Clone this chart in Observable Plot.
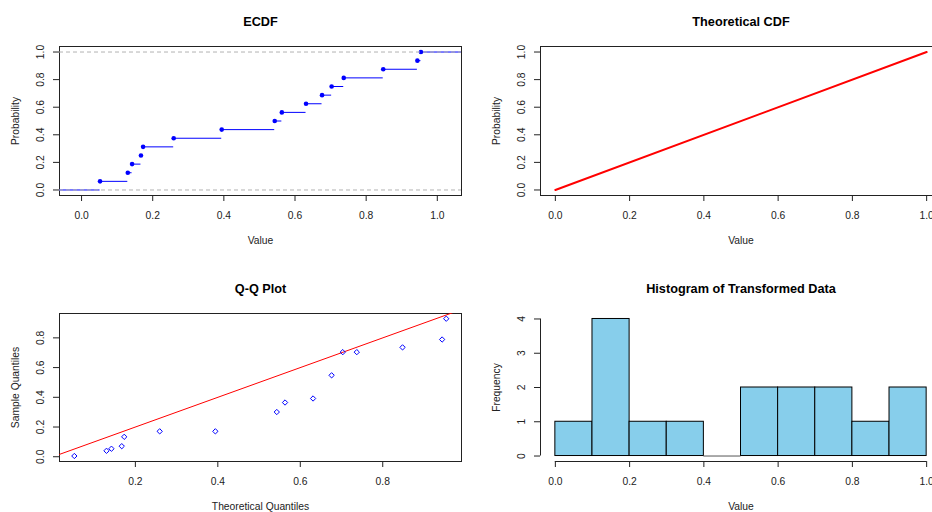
<!DOCTYPE html>
<html><head><meta charset="utf-8">
<script src="https://cdn.jsdelivr.net/npm/d3@7"></script>
<script src="https://cdn.jsdelivr.net/npm/@observablehq/plot@0.6"></script>
<style>
html,body{margin:0;padding:0;background:#fff;overflow:hidden;}
#wrap{position:relative;width:932px;height:512px;overflow:hidden;background:#fff;}
.panel{position:absolute;width:500px;height:256px;}
.panel svg{display:block;max-width:none !important;}
</style></head><body><div id="wrap">
<div class="panel" id="p1" style="left:0;top:0"></div>
<div class="panel" id="p2" style="left:466px;top:0"></div>
<div class="panel" id="p3" style="left:0;top:256px"></div>
<div class="panel" id="p4" style="left:466px;top:256px"></div>
</div>
<script>
// ---- data ----
const ecdfX = [0.052, 0.130, 0.142, 0.167, 0.173, 0.259, 0.394, 0.543, 0.563, 0.631, 0.676, 0.703, 0.737, 0.848, 0.944, 0.954];
const ecdfY = [0.0625, 0.125, 0.1875, 0.25, 0.3125, 0.375, 0.4375, 0.5, 0.5625, 0.625, 0.6875, 0.75, 0.8125, 0.875, 0.9375, 1.0];
const theoX = [0, 1];
const theoY = [0, 1];
const qqTheoretical = [0.052, 0.130, 0.142, 0.167, 0.173, 0.259, 0.394, 0.543, 0.563, 0.631, 0.676, 0.703, 0.737, 0.848, 0.944, 0.954];
const qqSample = [0.005, 0.040, 0.054, 0.071, 0.134, 0.171, 0.171, 0.301, 0.365, 0.392, 0.548, 0.704, 0.704, 0.736, 0.789, 0.929];
const qqIntercept = 0, qqSlope = 1;
const histBreaks = [0, 0.1, 0.2, 0.3, 0.4, 0.5, 0.6, 0.7, 0.8, 0.9, 1.0];
const histCounts = [1, 4, 1, 1, 0, 2, 2, 2, 1, 2];
const ticks01 = [0, 0.2, 0.4, 0.6, 0.8, 1.0];
const ticksQQx = [0.2, 0.4, 0.6, 0.8];
const ticksQQy = [0, 0.2, 0.4, 0.6, 0.8];
const ticksHistY = [0, 1, 2, 3, 4];

const FONT = "'Liberation Sans', Arial, Helvetica, sans-serif";
const f1 = d3.format(".1f");
const fd = d3.format("d");

function makePanel(o) {
  const marks = [];
  if (o.frame !== false) marks.push(Plot.frame({stroke: "#222"}));
  marks.push(...o.marks);
  marks.push(Plot.axisX(o.xTicks, {tickSize: 6, tickPadding: 10, tickFormat: o.xFmt, fontSize: 10.3, label: null, fill: "#222", stroke: "#222"}));
  marks.push(Plot.axisY(o.yTicks, {tickSize: 6, tickFormat: () => "", label: null, stroke: "#222"}));
  marks.push(Plot.text(o.yTicks, {y: d => d, text: o.yFmt, frameAnchor: "left", dx: -18.6, rotate: -90, textAnchor: "middle", lineAnchor: "middle", fontSize: 10.3, fill: "#222"}));
  marks.push(Plot.text([o.title], {frameAnchor: "top", dy: o.titleDy, fontWeight: "bold", fontSize: 12.7, fill: "#000", lineAnchor: "middle"}));
  marks.push(Plot.text([o.xLabel], {frameAnchor: "bottom", dy: 45, fontSize: 10.3, fill: "#222", lineAnchor: "middle"}));
  marks.push(Plot.text([o.yLabel], {frameAnchor: "left", dx: -44, rotate: -90, fontSize: 10.3, fill: "#222", lineAnchor: "middle", textAnchor: "middle"}));
  const chart = Plot.plot({
    width: o.width, height: 256,
    marginLeft: o.ml, marginRight: o.mr, marginTop: o.mt, marginBottom: o.mb,
    x: {domain: o.xDomain, label: null},
    y: {domain: o.yDomain, label: null},
    style: {fontFamily: FONT, fontSize: "10.3px", background: "transparent", color: "#222", overflow: "visible", maxWidth: "none"},
    marks
  });
  chart.style.maxWidth = "none";
  chart.style.width = o.width + "px";
  document.getElementById(o.el).appendChild(chart);
}

// Panel 1: ECDF
const xd1 = [-0.062, 1.068];
const segs = [{x1: xd1[0], x2: ecdfX[0], y: 0}];
ecdfX.forEach((x, i) => segs.push({x1: x, x2: i < ecdfX.length - 1 ? ecdfX[i + 1] : xd1[1], y: ecdfY[i]}));
const ecdfPts = ecdfX.map((x, i) => ({x, y: ecdfY[i]}));
makePanel({
  el: "p1", width: 466, ml: 59, mr: 5, mt: 46, mb: 61,
  xDomain: xd1, yDomain: [-0.04, 1.04],
  xTicks: ticks01, yTicks: ticks01, xFmt: f1, yFmt: f1,
  title: "ECDF", titleDy: -24.5, xLabel: "Value", yLabel: "Probability",
  marks: [
    Plot.ruleY(segs, {y: "y", x1: "x1", x2: "x2", stroke: "blue", strokeWidth: 1}),
    Plot.dot(ecdfPts, {x: "x", y: "y", r: 2.3, fill: "blue", stroke: "none"}),
    Plot.ruleY([0, 1], {stroke: "#b3b3b3", strokeDasharray: "4,3", strokeWidth: 1})
  ]
});

// Panel 2: Theoretical CDF
const theo = theoX.map((x, i) => ({x, y: theoY[i]}));
makePanel({
  el: "p2", width: 500, ml: 74, mr: 25, mt: 46, mb: 61,
  xDomain: [-0.04, 1.04], yDomain: [-0.04, 1.04],
  xTicks: ticks01, yTicks: ticks01, xFmt: f1, yFmt: f1,
  title: "Theoretical CDF", titleDy: -24.5, xLabel: "Value", yLabel: "Probability",
  marks: [
    Plot.line(theo, {x: "x", y: "y", stroke: "red", strokeWidth: 2})
  ]
});

// Panel 3: Q-Q plot
const xd3 = [0.016, 0.991];
const qq = qqTheoretical.map((x, i) => ({x, y: qqSample[i]}));
const qqLine = xd3.map(x => ({x, y: qqIntercept + qqSlope * x}));
makePanel({
  el: "p3", width: 466, ml: 59, mr: 5, mt: 57, mb: 51,
  xDomain: xd3, yDomain: [-0.032, 0.964],
  xTicks: ticksQQx, yTicks: ticksQQy, xFmt: f1, yFmt: f1,
  title: "Q-Q Plot", titleDy: -25, xLabel: "Theoretical Quantiles", yLabel: "Sample Quantiles",
  marks: [
    Plot.line(qqLine, {x: "x", y: "y", stroke: "red", strokeWidth: 1, clip: true}),
    Plot.dot(qq, {x: "x", y: "y", symbol: "diamond2", r: 2.4, stroke: "blue", fill: "none", strokeWidth: 1})
  ]
});

// Panel 4: Histogram
const xd4 = [-0.04, 1.04], yd4 = [-0.16, 4.16];
const hist = histCounts.map((c, i) => ({x1: histBreaks[i], x2: histBreaks[i + 1], count: c}));
makePanel({
  el: "p4", width: 500, ml: 74, mr: 25, mt: 57, mb: 51, frame: false,
  xDomain: xd4, yDomain: yd4,
  xTicks: ticks01, yTicks: ticksHistY, xFmt: f1, yFmt: fd,
  title: "Histogram of Transformed Data", titleDy: -25, xLabel: "Value", yLabel: "Frequency",
  marks: [
    Plot.rect(hist.filter(d => d.count > 0), {x1: "x1", x2: "x2", y1: 0, y2: "count", fill: "#87CEEB", stroke: "#000", strokeWidth: 1}),
    Plot.ruleY(hist.filter(d => d.count === 0), {y: "count", x1: "x1", x2: "x2", stroke: "#555", strokeWidth: 1}),
    Plot.ruleX([xd4[0]], {y1: ticksHistY[0], y2: ticksHistY[ticksHistY.length - 1], stroke: "#222"}),
    Plot.ruleY([yd4[0]], {x1: histBreaks[0], x2: histBreaks[histBreaks.length - 1], stroke: "#222"})
  ]
});
</script></body></html>
